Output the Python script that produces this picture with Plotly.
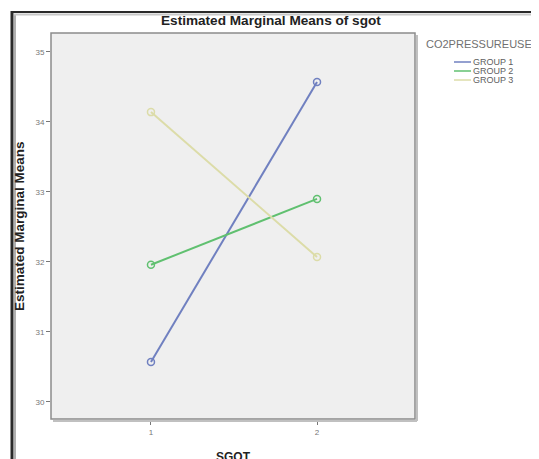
import plotly.graph_objects as go

# Data
sgot_levels = [1, 2]
groups = ["GROUP 1", "GROUP 2", "GROUP 3"]
group1_means = [30.57, 34.57]
group2_means = [31.96, 32.90]
group3_means = [34.14, 32.07]
y_ticks = [30, 31, 32, 33, 34, 35]
colors = ["#7080c0", "#60c070", "#dcdca8"]

series = [group1_means, group2_means, group3_means]

# the page body has an 8px margin; work in reference pixel coordinates and shift
OFF = 8
W, H = 539 - OFF, 459 - OFF
L, R, T, B = 51, 415, 33, 419  # plot area box in reference pixels

fig = go.Figure()
for name, vals, col in zip(groups, series, colors):
    fig.add_trace(go.Scatter(
        x=sgot_levels, y=vals, mode="lines+markers", name=name,
        line=dict(color=col, width=2),
        marker=dict(symbol="circle-open", size=7, color=col, line=dict(width=1.5, color=col)),
        showlegend=False,
    ))

def px(xp):
    return (xp - L) / (R - L)

def py(yp):
    return (B - yp) / (B - T)

shapes = []
# outer frame (dark left/top border with soft shadow)
shapes.append(dict(type="line", xref="paper", yref="paper", x0=px(12), x1=px(12), y0=py(11), y1=py(470),
                   line=dict(color="#2a2a2a", width=3)))
shapes.append(dict(type="line", xref="paper", yref="paper", x0=px(15), x1=px(15), y0=py(14), y1=py(470),
                   line=dict(color="#b0b0b0", width=2)))
shapes.append(dict(type="line", xref="paper", yref="paper", x0=px(11), x1=px(560), y0=py(12), y1=py(12),
                   line=dict(color="#2a2a2a", width=2)))
shapes.append(dict(type="line", xref="paper", yref="paper", x0=px(14), x1=px(560), y0=py(14.5), y1=py(14.5),
                   line=dict(color="#c8c8c8", width=2)))
# plot box shadow
shapes.append(dict(type="line", xref="paper", yref="paper", x0=px(L + 2), x1=px(R + 2), y0=py(B + 2), y1=py(B + 2),
                   line=dict(color="#c0c0c0", width=2)))
shapes.append(dict(type="line", xref="paper", yref="paper", x0=px(R + 2), x1=px(R + 2), y0=py(T + 2), y1=py(B + 2),
                   line=dict(color="#c0c0c0", width=2)))
shapes.append(dict(type="rect", xref="paper", yref="paper", x0=0, x1=1, y0=0, y1=1,
                   line=dict(color="#8c8c8c", width=1.5)))

annotations = []
# legend (manual)
annotations.append(dict(text="CO2PRESSUREUSED", xref="paper", yref="paper", x=px(424), y=py(44),
                        xanchor="left", yanchor="middle", showarrow=False,
                        font=dict(family="Liberation Sans", size=11, color="#707070")))
leg_y = [62, 71, 80]
for name, col, yy in zip(groups, colors, leg_y):
    shapes.append(dict(type="line", xref="paper", yref="paper", x0=px(454), x1=px(471), y0=py(yy), y1=py(yy),
                       line=dict(color=col, width=1.5)))
    annotations.append(dict(text=name, xref="paper", yref="paper", x=px(471), y=py(yy),
                            xanchor="left", yanchor="middle", showarrow=False,
                            font=dict(family="Liberation Sans", size=9, color="#606060")))

# titles
annotations.append(dict(text="<b>Estimated Marginal Means of sgot</b>", xref="paper", yref="paper",
                        x=px(271), y=py(20), xanchor="center", yanchor="middle", showarrow=False,
                        font=dict(family="Liberation Sans Narrow, Liberation Sans", size=13.6, color="#222222")))
annotations.append(dict(text="<b>SGOT</b>", xref="paper", yref="paper",
                        x=px(233), y=py(457), xanchor="center", yanchor="middle", showarrow=False,
                        font=dict(family="Liberation Sans", size=12, color="#222222")))
annotations.append(dict(text="<b>Estimated Marginal Means</b>", xref="paper", yref="paper",
                        x=px(19), y=py(226), xanchor="center", yanchor="middle", showarrow=False, textangle=-90,
                        font=dict(family="Liberation Sans", size=13.5, color="#222222")))

fig.update_layout(
    width=W, height=H,
    margin=dict(l=L - OFF, r=539 - R, t=T - OFF, b=459 - B, pad=0),
    paper_bgcolor="white", plot_bgcolor="#efefef",
    shapes=shapes, annotations=annotations,
    xaxis=dict(range=[0.398, 2.59], tickvals=sgot_levels, ticktext=[str(v) for v in sgot_levels],
               showgrid=False, zeroline=False, ticks="outside", ticklen=5, tickcolor="#777777",
               tickfont=dict(family="Liberation Sans", size=8, color="#777777"), showline=False),
    yaxis=dict(range=[29.757, 35.27], tickvals=y_ticks, ticktext=[str(v) for v in y_ticks],
               showgrid=False, zeroline=False, ticks="outside", ticklen=4, tickcolor="#777777",
               tickfont=dict(family="Liberation Sans", size=8, color="#777777"), showline=False),
)

fig.write_html("out.html")
